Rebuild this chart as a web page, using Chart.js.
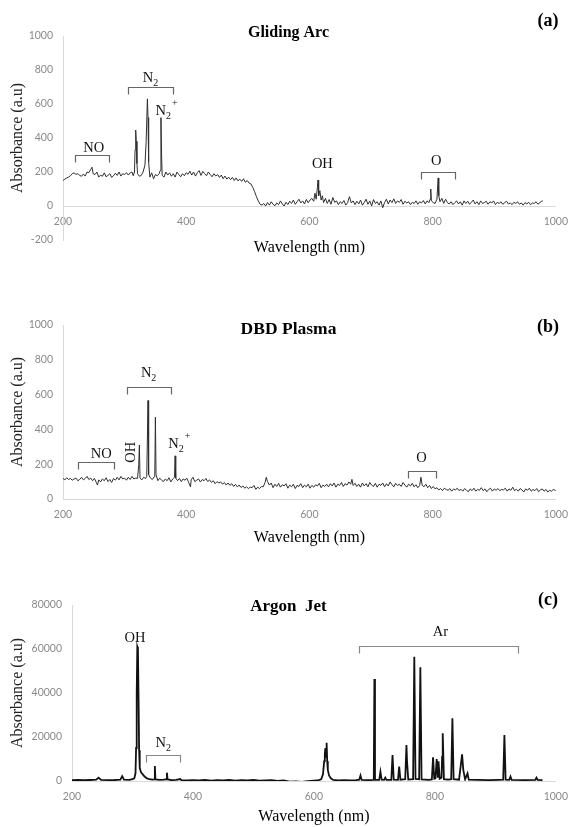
<!DOCTYPE html>
<html>
<head>
<meta charset="utf-8">
<title>Emission spectra</title>
<script src="https://cdn.jsdelivr.net/npm/chart.js@4.4.1/dist/chart.umd.min.js"></script>
<style>
  body { margin: 0; background: #fff; }
  canvas { display: block; }
</style>
</head>
<body>
<canvas id="arcChart" width="577" height="270"></canvas>
<canvas id="dbdChart" width="577" height="285"></canvas>
<canvas id="jetChart" width="577" height="272"></canvas>
<script>
// ---- spectra: wavelength (nm) and absorbance (a.u) ----

var wavelengthTicks = [200, 400, 600, 800, 1000];

// (a) gliding arc
var arcWave = [
  200,203,206,209,212,215,218,221,224,227,
  230,233,236,239,242,245,247,249,252,255,
  258,261,264,267,270,273,276,279,282,285,
  288,291,294,297,300,303,306,309,312,314,
  316,317,318,319,320,321,324,327,330,333,
  335,337,338,339,341,344,347,350,353,356,
  358,359,360,361,364,367,370,373,376,379,
  382,385,388,391,394,397,400,403,406,409,
  412,415,418,421,424,427,430,433,436,439,
  442,445,448,451,454,457,460,463,466,469,
  472,475,478,481,484,487,490,493,496,499,
  502,505,508,511,514,517,520,523,526,529,
  532,535,538,541,544,547,550,553,556,559,
  562,565,568,571,574,577,580,583,586,589,
  592,595,598,601,604,607,609,611,613,614,
  615,617,619,621,623,626,629,632,635,638,
  641,644,647,650,653,656,659,662,665,668,
  671,674,677,680,683,686,689,692,695,698,
  701,704,707,710,713,716,719,722,725,728,
  731,734,737,740,743,746,749,752,755,758,
  761,764,767,770,773,776,779,782,785,788,
  791,794,796,797,798,801,804,807,809,810,
  812,815,818,821,824,827,830,833,836,839,
  842,845,848,851,854,857,860,863,866,869,
  872,875,878,881,884,887,890,893,896,899,
  902,905,908,911,914,917,920,923,926,929,
  932,935,938,941,944,947,950,953,956,959,
  962,965,968,971,974,977,979
];
var arcAbs = [
  150,158,165,170,178,190,195,186,190,180,
  175,188,176,200,196,215,228,190,185,200,
  170,182,175,195,172,180,190,168,178,193,
  180,200,176,190,185,196,182,195,200,178,
  200,330,447,380,250,190,175,180,200,240,
  380,630,520,260,170,195,160,185,178,190,
  210,520,300,180,170,200,182,195,175,190,
  170,200,185,172,190,178,196,186,205,182,
  200,176,196,208,180,204,190,178,200,185,
  172,190,176,185,168,182,160,176,158,170,
  155,168,150,165,148,158,145,160,140,150,
  135,130,110,85,55,30,10,5,15,0,
  20,5,25,10,2,18,8,30,12,0,
  22,8,28,15,35,10,25,40,18,30,
  12,38,20,35,45,28,75,40,110,153,
  60,90,35,60,20,45,15,38,10,50,
  22,30,8,25,15,32,5,20,55,18,
  30,8,28,12,35,5,20,40,10,30,
  0,38,15,25,5,30,-10,20,40,12,
  35,20,42,15,30,22,38,10,28,18,
  25,8,22,15,30,10,25,18,32,12,
  30,20,40,100,30,20,15,40,165,60,
  25,45,15,40,20,12,25,8,20,30,
  12,25,5,30,15,28,10,22,35,12,
  25,8,30,15,20,28,10,25,18,30,
  8,22,15,25,10,20,28,12,18,8,
  22,15,25,10,18,5,20,12,22,8,
  18,15,25,10,20,28,30
];
var arcTicks = [-200, 0, 200, 400, 600, 800, 1000];

// (b) DBD plasma
var dbdWave = [
  200,203,206,209,212,215,218,221,224,227,
  230,233,236,239,242,245,248,251,254,256,
  258,261,264,267,270,273,276,279,282,285,
  288,291,294,297,300,303,306,309,312,315,
  318,321,323,324,325,328,331,334,336,338,
  339,342,345,348,349,350,351,354,357,360,
  363,366,369,372,375,378,381,382,383,386,
  389,392,395,398,401,404,407,408,411,414,
  417,420,423,426,429,432,435,438,441,444,
  447,450,453,456,459,462,465,468,471,474,
  477,480,483,486,489,492,495,498,501,504,
  507,510,513,516,519,522,525,528,530,532,
  535,538,541,544,547,550,553,556,559,562,
  565,568,571,574,577,580,583,586,589,592,
  595,598,601,604,607,610,613,616,619,622,
  625,628,631,634,637,640,643,646,649,652,
  655,658,661,664,667,669,671,674,677,680,
  683,686,689,692,695,698,701,704,707,710,
  713,716,719,722,725,728,731,734,737,740,
  743,746,749,752,755,758,761,764,767,770,
  773,776,779,781,783,786,789,792,795,798,
  801,804,807,810,813,816,819,822,825,828,
  831,834,837,840,843,846,849,852,855,858,
  861,864,867,870,873,876,879,882,885,888,
  891,894,897,900,903,906,909,912,915,918,
  921,924,927,930,933,936,939,942,945,948,
  951,954,957,960,963,966,969,972,975,978,
  981,984,987,990,993,996,1000
];
var dbdAbs = [
  118,110,122,112,118,108,115,120,105,112,
  125,110,118,130,112,120,105,118,96,80,
  110,98,115,105,122,100,112,95,118,108,
  125,110,130,115,120,108,125,112,130,115,
  120,118,200,310,120,110,125,118,130,566,
  140,120,112,128,130,470,140,105,120,108,
  100,115,105,122,98,115,125,248,120,105,
  118,100,115,108,120,95,70,110,125,100,
  108,115,98,112,105,118,100,110,95,105,
  88,100,92,98,85,95,80,92,78,88,
  72,84,70,80,66,75,62,70,60,68,
  65,78,55,68,60,72,70,95,125,100,
  80,92,65,85,72,90,68,82,75,88,
  62,80,70,85,60,78,72,88,65,80,
  70,85,62,78,68,82,75,90,65,80,
  72,85,70,88,75,92,68,85,78,95,
  72,88,80,98,85,113,78,90,72,85,
  68,92,75,88,70,95,80,72,90,68,
  85,78,92,70,88,75,98,82,70,90,
  78,85,72,95,80,68,85,75,90,70,
  82,65,78,125,80,70,85,65,78,60,
  72,58,65,52,60,48,62,55,50,60,
  45,58,52,62,48,56,45,60,50,42,
  58,48,62,45,55,50,65,48,58,42,
  55,62,45,58,50,60,48,55,52,62,
  45,58,50,68,48,56,45,60,52,40,
  58,50,62,45,55,48,60,42,52,58,
  45,55,40,50,45,55,48
];
var dbdTicks = [0, 200, 400, 600, 800, 1000];

// (c) argon jet
var jetWave = [
  200,210,220,230,240,244,248,260,270,280,
  283,286,295,300,303,305,306,307,308,309,
  310,311,312,314,317,320,324,328,333,336,
  337,338,345,352,356,357,358,365,372,379,
  381,390,400,410,420,430,440,450,460,470,
  480,490,500,510,520,530,540,550,560,570,
  580,590,600,608,612,615,617,618,619,620,
  621,622,623,625,628,632,640,650,660,670,
  675,677,679,690,699,700,701,708,710,712,
  716,718,720,728,730,732,739,741,743,751,
  753,754,756,764,766,768,774,776,778,790,
  795,797,799,801,803,805,806,808,811,812,
  813,815,822,827,829,831,840,845,847,850,
  854,856,870,890,905,913,915,917,923,925,
  927,950,966,968,970,978
];
var jetAbs = [
  400,500,350,450,600,1500,500,400,450,600,
  2200,600,500,800,1200,3500,15000,40000,61000,60000,
  39000,14000,6000,4000,3000,2000,1200,800,600,700,
  6800,700,500,600,800,3800,700,400,500,900,
  400,300,400,300,500,200,400,300,500,200,
  400,300,500,200,300,400,100,300,-300,-200,
  -400,-100,200,400,800,3000,9000,12000,15000,11000,
  17400,9000,5000,2500,1200,500,300,400,300,400,
  600,2500,500,400,500,46400,600,500,4200,600,
  500,1500,500,500,11800,600,500,6500,600,800,
  16400,9000,700,800,56500,900,800,51700,700,500,
  700,10800,1000,1200,10000,1500,9000,1000,1500,11000,
  21700,800,600,800,28500,800,600,12100,5000,800,
  3500,600,500,400,500,600,20900,600,500,2000,
  500,400,500,1500,500,400
];
var jetTicks = [0, 20000, 40000, 60000, 80000];

// ---- text, titles and brackets drawn over each panel ----
var serif = '"Liberation Serif", "Times New Roman", serif';

var panelNotes = {
  arcChart: {
    title: 'Gliding Arc', titleSize: 16, titleY: 33,
    letter: '(a)', letterY: 21, axisTitleY: 248,
    bracketColor: '#666',
    brackets: [[219, 275, 300], [306, 378, 700], [781, 837, 200]],
    labels: [
      {text: 'NO', x: 250, y: 347},
      {text: 'N', sub: '2', x: 342, y: 759},
      {text: 'N', sub: '2', sup: '+', x: 350, y: 565, align: 'left'},
      {text: 'OH', x: 621, y: 253},
      {text: 'O', x: 806, y: 270}
    ]
  },
  dbdChart: {
    title: 'DBD Plasma', titleSize: 17.5, titleY: 59,
    letter: '(b)', letterY: 57, axisTitleY: 268,
    bracketColor: '#666',
    brackets: [[225, 282, 211], [304, 376, 646], [760, 805, 160]],
    labels: [
      {text: 'NO', x: 262, y: 263},
      {text: 'OH', x: 309, y: 269, rotate: true},
      {text: 'N', sub: '2', x: 339, y: 731},
      {text: 'N', sub: '2', sup: '+', x: 371, y: 320, align: 'left'},
      {text: 'O', x: 782, y: 240}
    ]
  },
  jetChart: {
    title: 'Argon  Jet', titleSize: 17, titleY: 52,
    letter: '(c)', letterY: 45, axisTitleY: 262,
    bracketColor: '#888',
    brackets: [[322, 379, 11800], [674, 937, 61400]],
    labels: [
      {text: 'OH', x: 304, y: 65500},
      {text: 'N', sub: '2', x: 351, y: 17700},
      {text: 'Ar', x: 809, y: 68200}
    ]
  }
};

function drawLabel(ctx, lab, px, py, size) {
  var small = Math.round(size * 0.72);
  ctx.font = size + 'px ' + serif;
  var w1 = ctx.measureText(lab.text).width;
  ctx.font = small + 'px ' + serif;
  var w2 = lab.sub ? ctx.measureText(lab.sub).width : 0;
  var w3 = lab.sup ? ctx.measureText(lab.sup).width : 0;

  ctx.save();
  ctx.translate(px, py);
  if (lab.rotate) ctx.rotate(-Math.PI / 2);
  var left = lab.align === 'left' ? 0 : -(w1 + w2 + w3) / 2;
  var base = size * 0.33;
  ctx.textAlign = 'left';
  ctx.textBaseline = 'alphabetic';
  ctx.font = size + 'px ' + serif;
  ctx.fillText(lab.text, left, base);
  ctx.font = small + 'px ' + serif;
  if (lab.sub) ctx.fillText(lab.sub, left + w1, base + size * 0.28);
  if (lab.sup) ctx.fillText(lab.sup, left + w1 + w2 + 1, base - size * 0.6);
  ctx.restore();
}

var notesPlugin = {
  id: 'panelNotes',
  afterDraw: function (chart) {
    var n = panelNotes[chart.canvas.id];
    var ctx = chart.ctx, area = chart.chartArea;
    var xs = chart.scales.x, ys = chart.scales.y;
    ctx.save();
    ctx.fillStyle = '#000';
    ctx.textAlign = 'center';
    ctx.textBaseline = 'middle';

    ctx.font = 'bold ' + n.titleSize + 'px ' + serif;
    ctx.fillText(n.title, chart.width / 2, n.titleY);
    ctx.font = 'bold 18px ' + serif;
    ctx.fillText(n.letter, 548, n.letterY);
    ctx.font = '16px ' + serif;
    ctx.fillText('Wavelength (nm)', (area.left + area.right) / 2, n.axisTitleY);

    ctx.strokeStyle = n.bracketColor;
    ctx.lineWidth = 1.2;
    n.brackets.forEach(function (b) {
      var x1 = Math.round(xs.getPixelForValue(b[0])) + 0.5;
      var x2 = Math.round(xs.getPixelForValue(b[1])) + 0.5;
      var yy = Math.round(ys.getPixelForValue(b[2])) + 0.5;
      ctx.beginPath();
      ctx.moveTo(x1, yy + 7);
      ctx.lineTo(x1, yy);
      ctx.lineTo(x2, yy);
      ctx.lineTo(x2, yy + 7);
      ctx.stroke();
    });

    ctx.fillStyle = '#111';
    n.labels.forEach(function (lab) {
      drawLabel(ctx, lab, xs.getPixelForValue(lab.x), ys.getPixelForValue(lab.y), 14.5);
    });
    ctx.restore();
  }
};

var tickFont = {family: 'Lato, "Open Sans", sans-serif', size: 10.5};
var tickColor = '#8a8a8a';
var axisColor = '#d9d9d9';

// plain numbers, no thousands separator
function plainTick(v) { return String(v); }

function spectrumChart(id, waves, values, yTicks, opts) {
  var pts = waves.map(function (w, i) { return {x: w, y: values[i]}; });

  return new Chart(document.getElementById(id), {
    type: 'line',
    data: {
      datasets: [{
        data: pts,
        borderColor: opts.lineColor,
        borderWidth: opts.lineWidth,
        pointRadius: 0,
        tension: 0,
        fill: false
      }]
    },
    options: {
      responsive: false,
      animation: false,
      events: [],
      layout: {padding: {top: opts.top, right: 14, bottom: opts.bottom, left: 0}},
      plugins: {legend: {display: false}, tooltip: {enabled: false}},
      scales: {
        x: {
          type: 'linear',
          min: wavelengthTicks[0],
          max: wavelengthTicks[wavelengthTicks.length - 1],
          position: {y: 0},
          afterBuildTicks: function (axis) {
            axis.ticks = wavelengthTicks.map(function (v) { return {value: v}; });
          },
          ticks: {padding: 9, color: tickColor, font: tickFont, maxRotation: 0, callback: plainTick},
          grid: {display: false, drawTicks: false},
          border: {color: axisColor}
        },
        y: {
          min: yTicks[0],
          max: yTicks[yTicks.length - 1],
          afterBuildTicks: function (axis) {
            axis.ticks = yTicks.map(function (v) { return {value: v}; });
          },
          afterFit: function (axis) { axis.width = opts.axisWidth; },
          ticks: {padding: 10, color: tickColor, font: tickFont, callback: plainTick},
          grid: {display: false, drawTicks: false},
          border: {color: axisColor},
          title: {
            display: true,
            text: 'Absorbance (a.u)',
            color: '#222',
            font: {family: serif, size: 16},
            padding: {top: 8, bottom: 0}
          }
        }
      }
    },
    plugins: [notesPlugin]
  });
}

spectrumChart('arcChart', arcWave, arcAbs, arcTicks,
  {lineColor: '#2f2f2f', lineWidth: 1, top: 36, bottom: 30, axisWidth: 63});
spectrumChart('dbdChart', dbdWave, dbdAbs, dbdTicks,
  {lineColor: '#2f2f2f', lineWidth: 1, top: 55, bottom: 56, axisWidth: 63});
spectrumChart('jetChart', jetWave, jetAbs, jetTicks,
  {lineColor: '#111', lineWidth: 1.8, top: 50, bottom: 46, axisWidth: 72});
</script>
</body>
</html>
